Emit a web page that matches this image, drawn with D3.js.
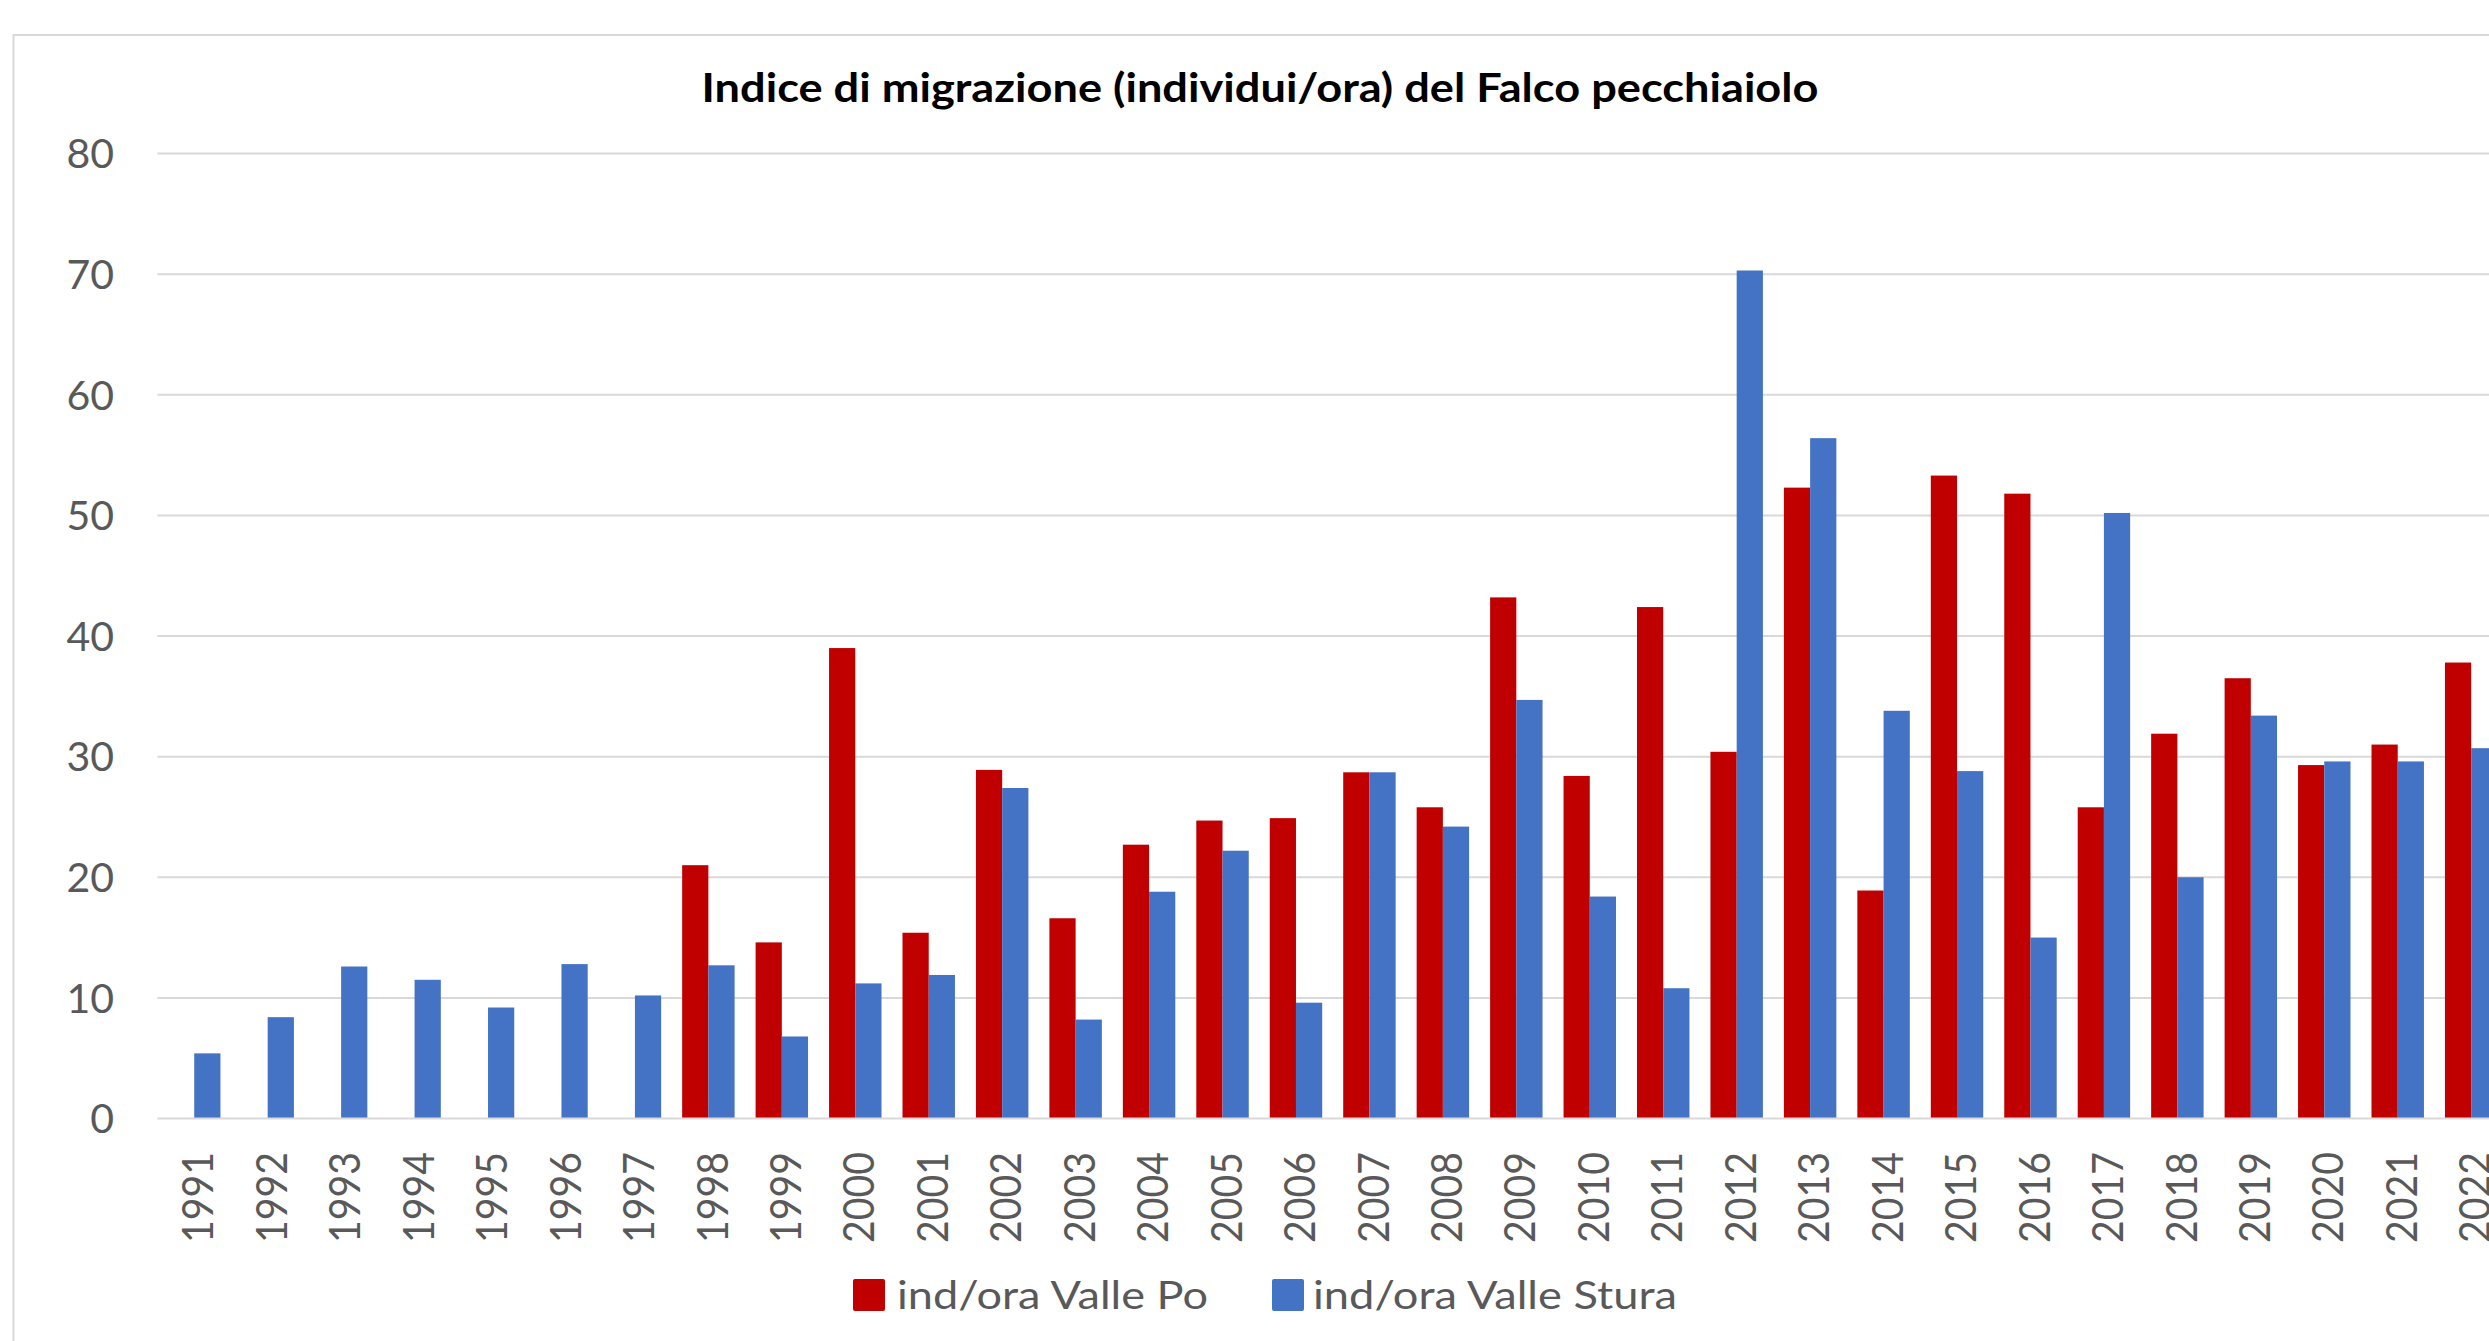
<!DOCTYPE html>
<html>
<head>
<meta charset="utf-8">
<script src="https://cdn.jsdelivr.net/npm/d3@7"></script>
<style>
	body { margin: 0; background: #fff; overflow: hidden; }
	text { font-family: Lato, "Open Sans", sans-serif; }
</style>
</head>
<body>
<div id="chart"></div>
<script>
// years on the x axis
const years = [
	'1991', '1992', '1993', '1994', '1995', '1996', '1997', '1998', '1999', '2000',
	'2001', '2002', '2003', '2004', '2005', '2006', '2007', '2008', '2009', '2010',
	'2011', '2012', '2013', '2014', '2015', '2016', '2017', '2018', '2019', '2020',
	'2021', '2022'
];

// ind/ora Valle Po (no data before 1998)
const vallePo = [
	null, null, null, null, null, null, null, 21.0, 14.6, 39.0,
	15.4, 28.9, 16.6, 22.7, 24.7, 24.9, 28.7, 25.8, 43.2, 28.4,
	42.4, 30.4, 52.3, 18.9, 53.3, 51.8, 25.8, 31.9, 36.5, 29.3,
	31.0, 37.8
];

// ind/ora Valle Stura
const valleStura = [
	5.4, 8.4, 12.6, 11.5, 9.2, 12.8, 10.2, 12.7, 6.8, 11.2,
	11.9, 27.4, 8.2, 18.8, 22.2, 9.6, 28.7, 24.2, 34.7, 18.4,
	10.8, 70.3, 56.4, 33.8, 28.8, 15.0, 50.2, 20.0, 33.4, 29.6,
	29.6, 30.7
];

const seriesNames = ['ind/ora Valle Po', 'ind/ora Valle Stura'];
const seriesColors = ['#C00000', '#4472C4'];
const yTicks = [0, 10, 20, 30, 40, 50, 60, 70, 80];
const title = 'Indice di migrazione (individui/ora) del Falco pecchiaiolo';

const width = 2489;
const height = 1341;

const plotLeft = 157.5;
const step = 73.45;
const plotRight = plotLeft + step * years.length; // runs past the right edge, like the source
const plotTop = 153.5;
const plotBottom = 1118.5;

const svg = d3.select('#chart')
	.append('svg')
	.attr('width', width)
	.attr('height', height);

// chart area frame
svg.append('rect')
	.attr('x', 13.5)
	.attr('y', 35)
	.attr('width', 2600)
	.attr('height', 1400)
	.attr('fill', '#fff')
	.attr('stroke', '#d9d9d9')
	.attr('stroke-width', 2);

const x = d3.scaleBand()
	.domain(years)
	.range([plotLeft, plotRight])
	.paddingInner(0.286)
	.paddingOuter(0.143);

const xSeries = d3.scaleBand()
	.domain([0, 1])
	.range([0, x.bandwidth()])
	.padding(0);

const y = d3.scaleLinear()
	.domain([0, 80])
	.range([plotBottom, plotTop]);

// gridlines
svg.append('g')
	.selectAll('line')
	.data(yTicks.filter((d) => d !== 0))
	.join('line')
	.attr('x1', plotLeft)
	.attr('x2', plotRight)
	.attr('y1', (d) => y(d))
	.attr('y2', (d) => y(d))
	.attr('stroke', '#d9d9d9')
	.attr('stroke-width', 2);

// y tick labels
svg.append('g')
	.selectAll('text')
	.data(yTicks)
	.join('text')
	.attr('x', 114)
	.attr('y', (d) => y(d))
	.attr('dy', '0.36em')
	.attr('text-anchor', 'end')
	.attr('font-size', 41)
	.attr('fill', '#595959')
	.text((d) => d);

// bars
const allSeries = [vallePo, valleStura];

allSeries.forEach((values, s) => {
	svg.append('g')
		.attr('fill', seriesColors[s])
		.selectAll('rect')
		.data(years.map((yr, i) => ({ yr, v: values[i] })).filter((d) => d.v !== null))
		.join('rect')
		.attr('x', (d) => x(d.yr) + xSeries(s))
		.attr('y', (d) => y(d.v))
		.attr('width', xSeries.bandwidth())
		.attr('height', (d) => y(0) - y(d.v));
});

// horizontal axis line drawn over the bars
svg.append('line')
	.attr('x1', plotLeft)
	.attr('x2', plotRight)
	.attr('y1', y(0))
	.attr('y2', y(0))
	.attr('stroke', '#d9d9d9')
	.attr('stroke-width', 2);

// rotated year labels
svg.append('g')
	.selectAll('text')
	.data(years)
	.join('text')
	.attr('transform', (d) => `translate(${x(d) + x.bandwidth() / 2 + 4}, 1152) rotate(-90)`)
	.attr('dy', '0.36em')
	.attr('text-anchor', 'end')
	.attr('font-size', 42)
	.attr('textLength', 91)
	.attr('lengthAdjust', 'spacingAndGlyphs')
	.attr('fill', '#595959')
	.text((d) => d);

// title
svg.append('text')
	.attr('x', 1260)
	.attr('y', 101.5)
	.attr('text-anchor', 'middle')
	.attr('font-size', 40)
	.attr('font-weight', 'bold')
	.attr('textLength', 1117)
	.attr('lengthAdjust', 'spacingAndGlyphs')
	.attr('fill', '#000')
	.text(title);

// legend
const legendItems = [
	{ sx: 853, tx: 897, w: 311 },
	{ sx: 1272, tx: 1313, w: 364 }
];

const legend = svg.append('g');

legend.selectAll('rect')
	.data(legendItems)
	.join('rect')
	.attr('x', (d) => d.sx)
	.attr('y', 1279)
	.attr('width', 32)
	.attr('height', 32)
	.attr('rx', 2)
	.attr('fill', (d, i) => seriesColors[i]);

legend.selectAll('text')
	.data(legendItems)
	.join('text')
	.attr('x', (d) => d.tx)
	.attr('y', 1309)
	.attr('font-size', 39)
	.attr('textLength', (d) => d.w)
	.attr('lengthAdjust', 'spacingAndGlyphs')
	.attr('fill', '#595959')
	.text((d, i) => seriesNames[i]);
</script>
</body>
</html>
